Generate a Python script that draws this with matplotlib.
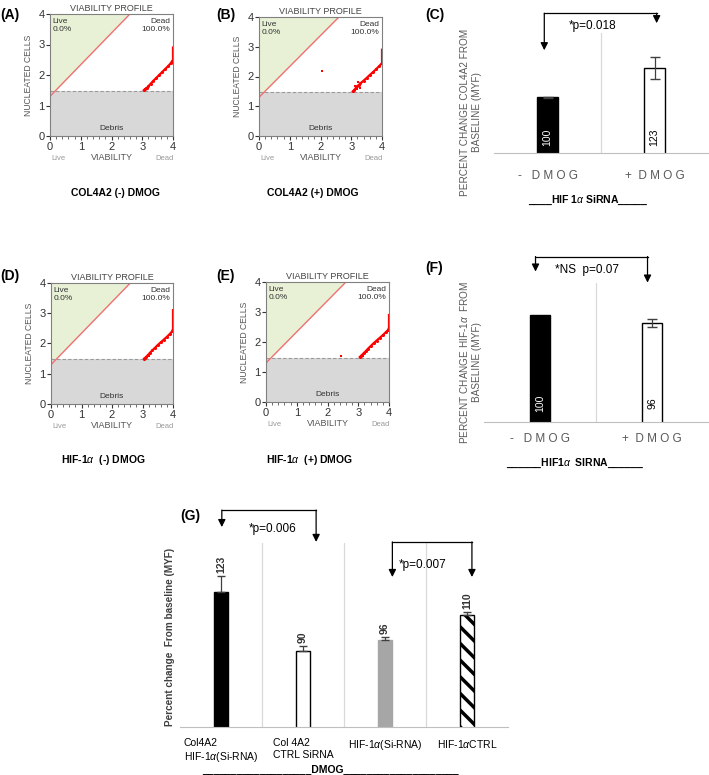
import numpy as np
import matplotlib.pyplot as plt
from matplotlib.ticker import AutoMinorLocator

plt.rcParams['font.family'] = ['Liberation Sans', 'DejaVu Sans']
plt.rcParams['mathtext.fontset'] = 'custom'
plt.rcParams['mathtext.rm'] = 'Liberation Sans'
plt.rcParams['mathtext.it'] = 'Liberation Sans:italic'
plt.rcParams['mathtext.bf'] = 'Liberation Sans:bold:italic'
plt.rcParams['hatch.linewidth'] = 2.5

W, H = 709, 775

# ---- viability profiles (A, B, D, E) ----
live_gate_x = [0.0, 0.17, 2.6, 0.0]
live_gate_y = [1.48, 1.48, 4.0, 4.0]
gate_line_x = [0.0, 2.6]
gate_line_y = [1.3, 4.0]
debris_level = 1.48

a_x = [3.05, 3.08, 3.12, 3.15, 3.20, 3.28, 3.35, 3.45, 3.55, 3.65, 3.75, 3.85, 3.92, 3.97, 4.0, 4.0, 4.0]
a_y = [1.50, 1.53, 1.56, 1.58, 1.63, 1.72, 1.80, 1.90, 2.00, 2.10, 2.20, 2.30, 2.38, 2.45, 2.50, 2.70, 2.90]
a_stray_x, a_stray_y = [3.10, 3.18], [1.55, 1.60]

b_x = [3.05, 3.10, 3.15, 3.20, 3.25, 3.30, 3.40, 3.50, 3.60, 3.70, 3.80, 3.90, 4.0, 4.0, 4.0]
b_y = [1.50, 1.55, 1.62, 1.68, 1.72, 1.77, 1.86, 1.95, 2.05, 2.14, 2.24, 2.34, 2.45, 2.65, 2.90]
b_stray_x, b_stray_y = [2.05, 3.12, 3.18, 3.22, 3.28], [2.20, 1.68, 1.58, 1.82, 1.62]

d_x = [3.05, 3.08, 3.12, 3.18, 3.25, 3.32, 3.40, 3.50, 3.60, 3.70, 3.80, 3.90, 3.97, 4.0, 4.0, 4.0]
d_y = [1.50, 1.52, 1.56, 1.62, 1.70, 1.77, 1.85, 1.95, 2.04, 2.13, 2.22, 2.32, 2.40, 2.48, 2.80, 3.10]
d_stray_x, d_stray_y = [3.12, 3.20], [1.50, 1.58]

e_x = [3.05, 3.08, 3.12, 3.18, 3.25, 3.32, 3.40, 3.50, 3.60, 3.70, 3.80, 3.90, 3.97, 4.0, 4.0, 4.0]
e_y = [1.50, 1.53, 1.57, 1.63, 1.70, 1.78, 1.86, 1.96, 2.05, 2.14, 2.23, 2.33, 2.40, 2.48, 2.70, 2.90]
e_stray_x, e_stray_y = [2.44, 3.10, 3.16], [1.55, 1.55, 1.52]

# ---- bar charts ----
c_labels = ['-   D M O G', '+  D M O G']
c_values = [100, 123]
c_err = [0.5, 8.7]

f_labels = ['-   D M O G', '+  D M O G']
f_values = [100, 96]
f_err = [0, 2]

g_labels = ['Col4A2\nHIF-1$\\alpha$(Si-RNA)', 'Col 4A2\nCTRL SiRNA',
            'HIF-1$\\alpha$(Si-RNA)', 'HIF-1$\\alpha$CTRL']
g_values = [123, 90, 96, 110]
g_err = [9, 3, 2, 2]


def px_box(x0, y0, x1, y1):
    return [x0 / W, 1 - y1 / H, (x1 - x0) / W, (y1 - y0) / H]


def ftext(x, y, s, **kw):
    fig.text(x / W, 1 - y / H, s, **kw)


def viability(box, xs, ys, sx, sy):
    ax = fig.add_axes(px_box(*box))
    ax.set_xlim(0, 4)
    ax.set_ylim(0, 4)
    ax.fill(live_gate_x, live_gate_y, color='#e8f1d5', lw=0)
    ax.axhspan(0, debris_level, color='#d8d8d8', lw=0)
    ax.axhline(debris_level, color='#999999', lw=0.8, ls=(0, (3, 2)))
    ax.plot(gate_line_x, gate_line_y, color='#f07070', lw=1)
    ax.plot(xs, ys, color='red', lw=1.6, marker='o', ms=1.2)
    if sx:
        ax.scatter(sx, sy, color='red', s=3, marker='s', lw=0)
    for s in ax.spines.values():
        s.set_color('#808080')
    ax.set_xticks(range(5))
    ax.set_yticks(range(5))
    ax.xaxis.set_minor_locator(AutoMinorLocator(5))
    ax.tick_params(labelsize=8, length=3, pad=1, colors='#333333')
    ax.tick_params(which='minor', length=2, colors='#555555')
    ax.set_title('VIABILITY PROFILE', fontsize=6.5, color='#444444', pad=2)
    ax.set_ylabel('NUCLEATED CELLS', fontsize=6.2, color='#555555', labelpad=4)
    ax.set_xlabel('VIABILITY', fontsize=6.5, color='#555555', labelpad=1)
    ax.text(0.02, 0.97, 'Live\n0.0%', transform=ax.transAxes, fontsize=6,
            color='#333333', va='top', ha='left')
    ax.text(0.98, 0.97, 'Dead\n100.0%', transform=ax.transAxes, fontsize=6,
            color='#333333', va='top', ha='right', multialignment='right')
    ax.text(0.5, 0.03, 'Debris', transform=ax.transAxes, fontsize=6,
            color='#333333', va='bottom', ha='center')
    ax.text(0.07, -0.2, 'Live', transform=ax.transAxes, fontsize=5.5,
            color='#999999', ha='center')
    ax.text(0.93, -0.2, 'Dead', transform=ax.transAxes, fontsize=5.5,
            color='#999999', ha='center')
    return ax


def bar_style(ax, n, ylim):
    ax.set_xlim(-0.5, n - 0.5)
    ax.set_ylim(*ylim)
    for s in ('top', 'right', 'left'):
        ax.spines[s].set_visible(False)
    ax.spines['bottom'].set_color('#bfbfbf')
    ax.set_yticks([])
    for k in range(n - 1):
        ax.axvline(k + 0.5, color='#d9d9d9', lw=0.9)
    ax.tick_params(axis='x', length=0)


def bracket(ax, x0, x1, y, tip0, tip1):
    ax.plot([x0, x1], [y, y], color='k', lw=0.9, clip_on=False)
    for x, tip in ((x0, tip0), (x1, tip1)):
        ax.annotate('', xy=(x, tip), xytext=(x, y), annotation_clip=False,
                    arrowprops=dict(arrowstyle='-|>', color='k', lw=0.9,
                                    mutation_scale=11, shrinkA=0, shrinkB=0))


fig = plt.figure(figsize=(W / 100, H / 100), dpi=100)

viability((50, 14, 173, 136), a_x, a_y, a_stray_x, a_stray_y)
viability((259, 17, 382, 136), b_x, b_y, b_stray_x, b_stray_y)
viability((51, 283, 173, 404), d_x, d_y, d_stray_x, d_stray_y)
viability((266, 282, 389, 402), e_x, e_y, e_stray_x, e_stray_y)

lab = dict(fontsize=10, fontweight='bold', va='center')
ftext(0, 15, '(A)', **lab)
ftext(216, 15, '(B)', **lab)
ftext(0, 276, '(D)', **lab)
ftext(216, 276, '(E)', **lab)
ftext(425, 15, '(C)', **lab)
ftext(425, 268, '(F)', **lab)
ftext(180, 516, '(G)', **lab)

cap = dict(fontsize=7.5, fontweight='bold', ha='center', va='center')
ftext(115, 193, 'COL4A2 (-) DMOG', **cap)
ftext(313, 193, 'COL4A2 (+) DMOG', **cap)
ftext(103, 460, 'HIF-1$\\alpha$  (-) DMOG', **cap)
ftext(310, 460, 'HIF-1$\\alpha$  (+) DMOG', **cap)

# ---- panel C ----
ax = fig.add_axes(px_box(494, 33, 708, 153))
bar_style(ax, 2, (55.6, 151))
xc = np.arange(len(c_values))
ax.bar(xc, c_values, width=0.2, color=['black', 'white'], edgecolor='black', lw=1)
ax.errorbar(xc, c_values, yerr=c_err, fmt='none', ecolor='#404040',
            elinewidth=0.9, capsize=3.5)
for i, v in enumerate(c_values):
    ax.text(i, 68, str(v), rotation=90, ha='center', va='center', fontsize=7.5,
            color='white' if i == 0 else 'black')
ax.set_xticks(xc)
ax.set_xticklabels(c_labels, fontsize=8.5, color='#595959')
ax.tick_params(axis='x', pad=12)
bracket(ax, -0.03, 1.02, 166.7, 137.3, 158.8)
ax.text(0.2, 156.5, '*p=0.018', fontsize=8.5, va='center', ha='left')
ftext(471, 112, 'PERCENT CHANGE COL4A2 FROM\nBASELINE (MYF)', fontsize=7.2,
      color='#595959', rotation=90, ha='center', va='center')
ftext(588, 200, '____HIF 1$\\alpha$ SiRNA_____', **cap)

# ---- panel F ----
ax = fig.add_axes(px_box(484, 283, 708, 422))
bar_style(ax, 2, (46.7, 116))
xf = np.arange(len(f_values))
ax.bar(xf, f_values, width=0.18, color=['black', 'white'], edgecolor='black', lw=1)
ax.errorbar(xf[1:], f_values[1:], yerr=f_err[1:], fmt='none', ecolor='#404040',
            elinewidth=0.9, capsize=3.5)
for i, v in enumerate(f_values):
    ax.text(i, 56, str(v), rotation=90, ha='center', va='center', fontsize=7.5,
            color='white' if i == 0 else 'black')
ax.set_xticks(xf)
ax.set_xticklabels(f_labels, fontsize=8.5, color='#595959')
ax.tick_params(axis='x', pad=8)
bracket(ax, -0.04, 0.96, 129.2, 121.7, 116.2)
ax.text(0.13, 122.5, '*NS  p=0.07', fontsize=8.5, va='center', ha='left')
ftext(470, 362, 'PERCENT CHANGE HIF-1$\\alpha$  FROM\nBASELINE (MYF)', fontsize=7.2,
      color='#595959', rotation=90, ha='center', va='center')
ftext(575, 463, '______HIF1$\\alpha$  SIRNA______', **cap)

# ---- panel G ----
ax = fig.add_axes(px_box(180, 543, 508, 727))
bar_style(ax, 4, (47.5, 150.3))
xg = np.arange(len(g_values))
ax.bar(xg, g_values, width=0.18, color=['black', 'white', '#a6a6a6', 'white'],
       edgecolor=['black', 'black', '#a6a6a6', 'black'], lw=1,
       hatch=[None, None, None, '\\\\'])
ax.errorbar(xg, g_values, yerr=[[0] * len(g_err), g_err], fmt='none',
            ecolor='#404040', elinewidth=0.9, capsize=3)
for i, v in enumerate(g_values):
    ax.text(i, v + g_err[i] + 1.5, str(v), rotation=90, ha='center', va='bottom',
            fontsize=7.5, fontweight='bold', color='#333333')
ax.set_xticks(xg)
ax.set_xticklabels(g_labels, fontsize=7.5, multialignment='left', va='top')
ax.tick_params(axis='x', pad=8)
bracket(ax, 0.01, 1.16, 168.7, 159.2, 150.9)
ax.text(0.34, 158, '*p=0.006', fontsize=8.5, va='center', ha='left')
bracket(ax, 2.09, 3.06, 150.9, 131.3, 131.3)
ax.text(2.17, 138, '*p=0.007', fontsize=8.5, va='center', ha='left')
ftext(170, 637, 'Percent change  From baseline (MYF)', fontsize=7.2,
      fontweight='bold', color='#404040', rotation=90, ha='center', va='center')
ftext(330, 770, '___________________DMOG____________________', **cap)

fig.savefig('out.png', dpi=100)
